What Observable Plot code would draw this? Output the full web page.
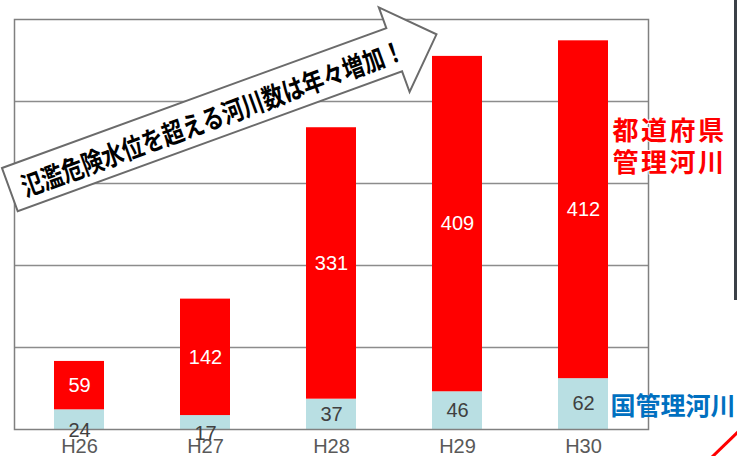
<!DOCTYPE html>
<html><head><meta charset="utf-8">
<script src="https://cdn.jsdelivr.net/npm/d3@7"></script>
<script src="https://cdn.jsdelivr.net/npm/@observablehq/plot@0.6"></script>
<style>
body{margin:0;background:#fff}
#chart{position:relative;width:737px;height:456px;overflow:hidden}
</style>
</head><body><div id="chart"></div>
<script>
const years = ["H26","H27","H28","H29","H30"];
const national = [24, 17, 37, 46, 62];
const prefectural = [59, 142, 331, 409, 412];
const gridValues = [100, 200, 300, 400];
const labelNational = "国管理河川";
const labelPref = "都道府県\n管理河川";
const headline = "氾濫危険水位を超える河川数は年々増加！";

const rows = [];
years.forEach((yr, i) => {
  rows.push({year: yr, series: "国", value: national[i], mid: national[i] / 2});
  rows.push({year: yr, series: "都道府県", value: prefectural[i], mid: national[i] + prefectural[i] / 2});
});
const natRows = rows.filter(d => d.series === "国");
const prefRows = rows.filter(d => d.series === "都道府県");

const JP = "'Noto Sans CJK JP', 'Noto Sans', sans-serif";
const NUM = "'Liberation Sans', Arial, sans-serif";

const decor = () => {
  const g = d3.create("svg:g");
  const a = g.append("g").attr("transform", "translate(2,168) rotate(-20)");
  a.append("path")
    .attr("d", "M0,0 H409 V-22 L454,23 L409,68 V46 H0 Z")
    .attr("fill", "white").attr("stroke", "#6b6b6b").attr("stroke-width", 2).attr("stroke-linejoin", "miter");
  a.append("text")
    .attr("x", 12).attr("y", 24)
    .attr("text-anchor", "start")
    .attr("dominant-baseline", "central")
    .attr("font-family", JP).attr("font-weight", "bold").attr("font-size", 27)
    .attr("textLength", 406).attr("lengthAdjust", "spacingAndGlyphs")
    .attr("fill", "#000").text(headline);
  g.append("rect").attr("x", 734).attr("y", 0).attr("width", 3).attr("height", 300).attr("fill", "#3b4047");
  g.append("line").attr("x1", 711).attr("y1", 458).attr("x2", 740).attr("y2", 430)
    .attr("stroke", "#ff0000").attr("stroke-width", 3);
  return g.node();
};

const chart = Plot.plot({
  width: 737,
  height: 456,
  marginLeft: 14,
  marginRight: 89,
  marginTop: 19,
  marginBottom: 27,
  style: {fontFamily: NUM, background: "white"},
  x: {domain: years, paddingInner: 0.6, paddingOuter: 0.3, label: null},
  y: {domain: [0, 500], axis: null},
  marks: [
    Plot.ruleY(gridValues, {stroke: "#8c8c8c", strokeWidth: 1.5}),
    Plot.barY(rows, Plot.stackY({x: "year", y: "value", fill: d => d.series === "国" ? "#b9dfe3" : "#ff0000", order: ["国", "都道府県"], z: "series"})),
    Plot.frame({stroke: "#808080", strokeWidth: 1.5}),
    Plot.axisX({tickSize: 0, tickPadding: 9, fontSize: 20, color: "#595959", label: null}),
    Plot.text(prefRows, {x: "year", y: "mid", text: d => String(d.value), fill: "white", fontSize: 20}),
    Plot.text(natRows.filter(d => d.value >= 30), {x: "year", y: "mid", text: d => String(d.value), fill: "#404040", fontSize: 20}),
    Plot.text(natRows.filter(d => d.value < 30), {x: "year", y: "mid", text: d => String(d.value), fill: "#404040", fontSize: 20, dy: 11}),
    Plot.text([labelPref], {x: () => years[4], y: () => 346, text: d => d, dx: 29, textAnchor: "start", fill: "#ff0000", stroke: "white", strokeWidth: 2, fontSize: 26, fontWeight: "bold", fontFamily: JP, lineHeight: 1.24}),
    Plot.text([labelNational], {x: () => years[4], y: () => 27.5, text: d => d, dx: 27, textAnchor: "start", fill: "#0070c0", fontSize: 25, fontWeight: "bold", fontFamily: JP}),
    decor
  ]
});
d3.select(chart).selectAll("text")
  .filter(function() { return this.textContent.includes("都道府県"); })
  .attr("letter-spacing", "2.5px");
document.getElementById("chart").appendChild(chart);
</script>
</body></html>
